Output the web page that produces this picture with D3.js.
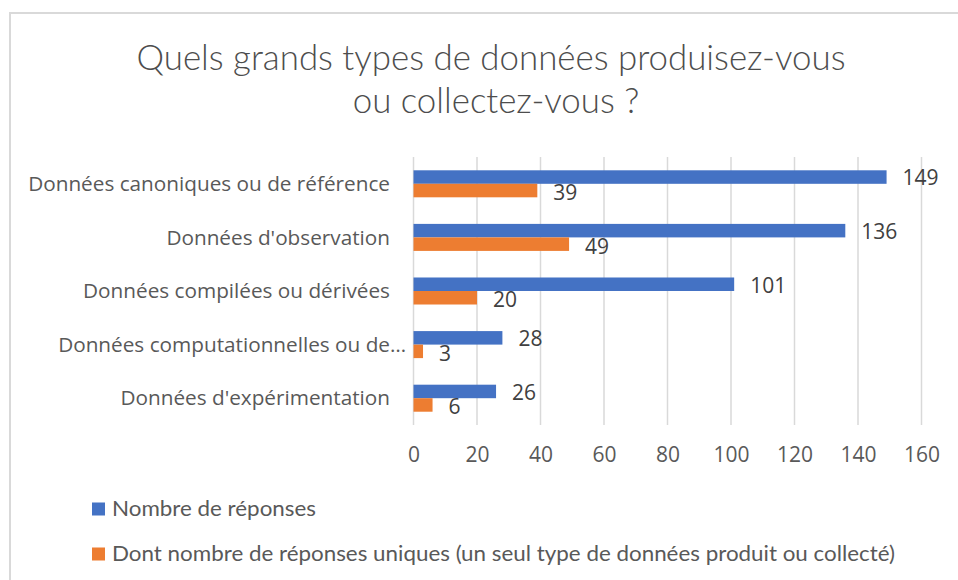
<!DOCTYPE html>
<html>
<head>
<meta charset="utf-8">
<script src="https://cdn.jsdelivr.net/npm/d3@7/dist/d3.min.js"></script>
<style>
  html, body { margin: 0; padding: 0; background: #fff; }
  svg { display: block; }
</style>
</head>
<body>
<svg id="chart" width="958" height="580"></svg>
<script>
const titleLines = ["Quels grands types de données produisez-vous", "ou collectez-vous ?"];
const categories = [
  "Données canoniques ou de référence",
  "Données d'observation",
  "Données compilées ou dérivées",
  "Données computationnelles ou de…",
  "Données d'expérimentation"
];
const seriesNames = [
  "Nombre de réponses",
  "Dont nombre de réponses uniques (un seul type de données produit ou collecté)"
];
const totalResponses = [149, 136, 101, 28, 26];
const uniqueResponses = [39, 49, 20, 3, 6];
const xTicks = [0, 20, 40, 60, 80, 100, 120, 140, 160];
const colors = ["#4472C4", "#ED7D31"];

const svg = d3.select("#chart");
const W = 958, H = 580;
const textColor = "#595959";

// chart area border
svg.append("path")
  .attr("d", `M10,${H + 5} V13 H${W + 5}`)
  .attr("fill", "none")
  .attr("stroke", "#d9d9d9")
  .attr("stroke-width", 2);

// Title (condensed to mimic a narrow font)
const titleSize = 35;
const t1 = svg.append("text").attr("x", 491).attr("y", 70)
  .attr("text-anchor", "middle").attr("font-family", "Lato").attr("font-weight", 300)
  .attr("font-size", titleSize).attr("fill", "#4d4d4d").text(titleLines[0]);
const t2 = svg.append("text").attr("x", 496).attr("y", 113)
  .attr("text-anchor", "middle").attr("font-family", "Lato").attr("font-weight", 300)
  .attr("font-size", titleSize).attr("fill", "#4d4d4d").text(titleLines[1]);
const ratio = 709 / t1.node().getComputedTextLength();
t1.attr("textLength", 709).attr("lengthAdjust", "spacingAndGlyphs");
t2.attr("textLength", (t2.node().getComputedTextLength() * ratio).toFixed(1)).attr("lengthAdjust", "spacingAndGlyphs");

// Scales
const x = d3.scaleLinear().domain([0, 160]).range([413.5, 921.5]);
const y = d3.scaleBand().domain(categories).range([157, 425]).paddingInner(0.496).paddingOuter(0.248);
const sub = d3.scaleBand().domain([0, 1]).range([0, y.bandwidth()]);

// Gridlines
svg.append("g").selectAll("line").data(xTicks).join("line")
  .attr("x1", d => x(d)).attr("x2", d => x(d))
  .attr("y1", 157).attr("y2", 425)
  .attr("stroke", "#d9d9d9").attr("stroke-width", 1.5);

// x axis (labels only)
const xAxis = d3.axisBottom(x).tickValues(xTicks).tickSize(0).tickPadding(0);
const gx = svg.append("g").attr("transform", "translate(0,425)").call(xAxis);
gx.select(".domain").remove();
gx.selectAll("text")
  .attr("y", 37)
  .attr("dy", null)
  .attr("font-family", "Open Sans")
  .attr("font-size", 21)
  .attr("fill", textColor);

// Category labels
const catFont = 20;
const gy = svg.append("g");
const labels = gy.selectAll("text").data(categories).join("text")
  .attr("x", 390)
  .attr("y", d => y(d) + y.bandwidth() / 2)
  .attr("dy", "0.35em")
  .attr("text-anchor", "end")
  .attr("font-family", "Open Sans")
  .attr("font-size", catFont)
  .attr("fill", textColor);
labels.each(function(d) {
  const el = d3.select(this);
  if (d.endsWith("…")) {
    el.append("tspan").text(d.slice(0, -1));
  } else {
    el.text(d);
  }
});
const longest = labels.filter((d, i) => i === 0);
const baseW = longest.node().getComputedTextLength();
const catSize = (catFont * 362 / baseW).toFixed(2);
labels.attr("font-size", catSize);
labels.filter(d => d.endsWith("…")).append("tspan").text("…");
labels.filter(d => d.endsWith("…")).each(function() {
  const el = d3.select(this);
  const ell = el.selectAll("tspan").nodes()[1].getComputedTextLength();
  el.attr("x", 390 + ell);
});

// Bars
const series = [totalResponses, uniqueResponses];
series.forEach((vals, si) => {
  const g = svg.append("g");
  g.selectAll("rect").data(categories).join("rect")
    .attr("x", x(0))
    .attr("y", (d, i) => y(d) + sub(si))
    .attr("width", (d, i) => x(vals[i]) - x(0))
    .attr("height", sub.bandwidth())
    .attr("fill", colors[si]);
  g.selectAll("text").data(categories).join("text")
    .attr("x", (d, i) => x(vals[i]) + 16)
    .attr("y", (d, i) => y(d) + sub(si) + sub.bandwidth() / 2 + (si === 0 ? 1 : 2))
    .attr("dy", "0.35em")
    .attr("font-family", "Open Sans")
    .attr("font-size", 21)
    .attr("fill", "#404040")
    .text((d, i) => vals[i]);
});

// Legend
const legY = [509, 554];
seriesNames.forEach((name, i) => {
  svg.append("rect").attr("x", 92).attr("y", legY[i] - 6.5).attr("width", 13).attr("height", 13).attr("fill", colors[i]);
  svg.append("text").attr("x", 112).attr("y", legY[i]).attr("dy", "0.35em")
    .attr("class", "leg" + i)
    .attr("font-family", "Lato").attr("font-size", 20.5).attr("fill", textColor).text(name);
});
// condense legend text to the reference widths
const l0 = svg.select(".leg0"), l1 = svg.select(".leg1");
const lratio = 783 / l1.node().getComputedTextLength();
l1.attr("textLength", 783).attr("lengthAdjust", "spacingAndGlyphs");
l0.attr("textLength", (l0.node().getComputedTextLength() * lratio).toFixed(1)).attr("lengthAdjust", "spacingAndGlyphs");
</script>
</body>
</html>
